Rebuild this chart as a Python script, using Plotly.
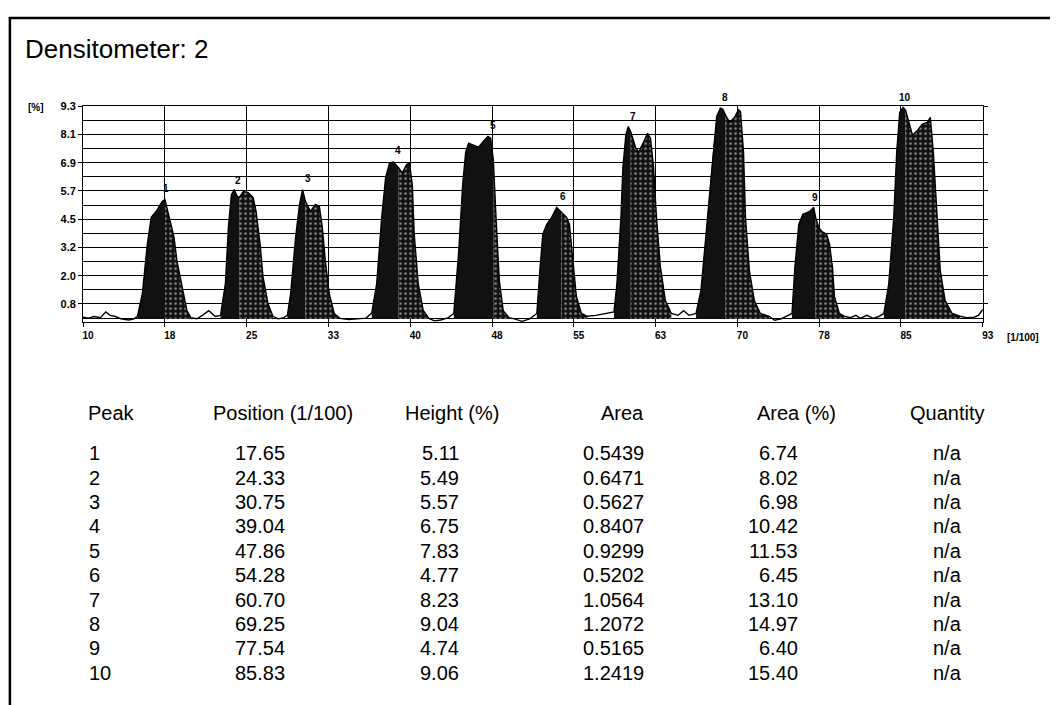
import plotly.graph_objects as go

W, H = 1061, 705
FONT = "Liberation Sans, Arial, Helvetica, sans-serif"

# ---- peak report table ----
PEAK_IDS = [1, 2, 3, 4, 5, 6, 7, 8, 9, 10]
PEAK_POS = [17.65, 24.33, 30.75, 39.04, 47.86, 54.28, 60.70, 69.25, 77.54, 85.83]
PEAK_HEIGHT = [5.11, 5.49, 5.57, 6.75, 7.83, 4.77, 8.23, 9.04, 4.74, 9.06]
PEAK_AREA = [0.5439, 0.6471, 0.5627, 0.8407, 0.9299, 0.5202, 1.0564, 1.2072, 0.5165, 1.2419]
PEAK_AREA_PCT = [6.74, 8.02, 6.98, 10.42, 11.53, 6.45, 13.10, 14.97, 6.40, 15.40]
PEAK_QTY = ["n/a"] * 10
TABLE_HEADERS = ["Peak", "Position (1/100)", "Height (%)", "Area", "Area (%)", "Quantity"]

# ---- axis labels ----
X_TICK_LABELS = ["10", "18", "25", "33", "40", "48", "55", "63", "70", "78", "85", "93"]
Y_TICK_LABELS = ["9.3", "8.1", "6.9", "5.7", "4.5", "3.2", "2.0", "0.8"]
X_MIN, X_MAX = 10, 93
Y_MIN, Y_MAX = 0, 9.33
Y_LABEL_STEP = 1.22

# ---- densitometer scan profile (position 1/100, %) ----
TRACE_X = [
    10.0, 10.5, 11.0, 11.6, 12.1, 12.5, 13.0, 13.5, 14.2, 14.7,
    15.02, 15.47, 15.93, 16.29, 16.75, 17.30, 17.55, 17.94, 18.39, 18.66, 19.12, 19.58, 19.94,
    20.5, 21.0, 21.6, 22.2,
    22.68, 23.13, 23.41, 23.68, 23.95, 24.2, 24.41, 24.78, 25.23, 25.69, 25.96, 26.33, 26.60, 27.06, 27.51,
    28.0, 28.5,
    28.85, 29.15, 29.61, 29.97, 30.25, 30.52, 30.98, 31.43, 31.80, 32.07, 32.35, 32.71, 33.17, 33.71,
    34.5, 35.3, 36.1,
    36.63, 37.09, 37.55, 37.91, 38.28, 38.64, 39.10, 39.46, 39.82, 40.10, 40.37, 40.55, 40.92, 41.38, 41.92,
    42.4, 43.0, 43.7,
    44.20, 44.66, 45.02, 45.30, 45.57, 46.03, 46.48, 47.0, 47.35, 47.6, 47.85, 48.1, 48.4, 48.76, 49.3, 49.8,
    50.5, 51.2,
    51.86, 52.14, 52.41, 52.78, 53.23, 53.69, 54.14, 54.60, 54.87, 55.15, 55.51, 55.97, 56.52,
    57.3, 58.2,
    58.98, 59.25, 59.62, 59.80, 60.07, 60.30, 60.53, 60.99, 61.26, 61.71, 62.08, 62.35, 62.63, 62.90, 63.26, 63.72, 64.27,
    64.9, 65.4, 65.9,
    66.55, 67.00, 67.46, 67.83, 68.19, 68.46, 68.80, 69.01, 69.28, 69.65, 70.10, 70.47, 70.65, 70.93, 71.11, 71.47, 71.93, 72.48, 73.30,
    73.8, 74.4, 75.0,
    75.40, 75.67, 76.03, 76.40, 76.76, 77.04, 77.40, 77.58, 77.86, 78.13, 78.59, 78.86, 79.13, 79.32, 79.77, 80.23,
    80.8, 81.3, 81.7, 82.3, 82.9, 83.4,
    83.88, 84.33, 84.79, 85.06, 85.34, 85.65, 85.88, 86.16, 86.52, 86.98, 87.43, 87.89, 88.16, 88.44, 88.80, 89.08, 89.53, 90.17, 90.90,
    91.5, 92.2, 92.6, 93.0,
]
TRACE_Y = [
    0.22, 0.18, 0.25, 0.20, 0.45, 0.30, 0.25, 0.15, 0.10, 0.15,
    0.26, 1.24, 3.38, 4.53, 4.79, 5.21, 5.30, 4.53, 3.68, 2.65, 1.54, 0.51, 0.20,
    0.15, 0.30, 0.50, 0.25,
    0.30, 1.67, 4.10, 5.50, 5.73, 5.45, 5.38, 5.64, 5.60, 5.38, 4.79, 3.38, 1.97, 0.81, 0.26,
    0.15, 0.20,
    0.30, 1.24, 3.68, 5.09, 5.73, 5.21, 4.79, 5.09, 5.00, 4.10, 2.65, 1.24, 0.38, 0.17,
    0.12, 0.15, 0.18,
    0.40, 1.67, 4.53, 6.24, 6.88, 6.92, 6.67, 6.45, 6.79, 6.90, 5.94, 3.80, 1.67, 0.51, 0.17,
    0.06, 0.10, 0.20,
    0.38, 3.08, 5.94, 7.35, 7.73, 7.65, 7.56, 7.85, 8.02, 7.95, 7.00, 4.50, 1.80, 0.50, 0.20, 0.15,
    0.04, 0.15,
    0.38, 2.22, 3.80, 4.23, 4.53, 4.96, 4.74, 4.53, 4.23, 2.82, 1.11, 0.38, 0.26,
    0.30, 0.38,
    0.45, 1.67, 4.53, 6.67, 8.08, 8.45, 8.21, 7.52, 7.35, 7.78, 8.16, 7.95, 6.67, 4.53, 2.39, 0.94, 0.38,
    0.30, 0.50, 0.30,
    0.38, 1.37, 3.80, 5.94, 7.78, 8.90, 9.24, 9.20, 8.93, 8.63, 8.85, 9.18, 9.10, 7.35, 4.53, 2.22, 0.94, 0.38, 0.26,
    0.09, 0.15, 0.30,
    0.38, 2.39, 4.23, 4.66, 4.74, 4.79, 4.96, 4.53, 4.10, 3.93, 3.80, 3.38, 2.39, 1.11, 0.38, 0.26,
    0.20, 0.30, 0.17, 0.30, 0.17, 0.25,
    0.38, 1.67, 4.53, 7.35, 9.06, 9.28, 9.15, 8.63, 8.08, 8.29, 8.55, 8.63, 8.85, 7.35, 4.53, 2.22, 0.94, 0.38, 0.26,
    0.20, 0.22, 0.30, 0.55,
]
# integration limits of each band
PEAK_START = [15.02, 22.68, 28.85, 36.63, 44.20, 51.86, 58.98, 66.55, 75.40, 83.88]
PEAK_END = [19.94, 27.51, 33.71, 41.92, 49.80, 56.52, 64.27, 73.30, 80.23, 90.90]
BASELINE = 0.15


def px_x(px):
    return px / W


def px_y(py):
    return 1 - py / H


fig = go.Figure()

# shaded bands: dense left flank, speckled right flank
for pos, x0, x1 in zip(PEAK_POS, PEAK_START, PEAK_END):
    pts = [(x, y) for x, y in zip(TRACE_X, TRACE_Y) if x0 <= x <= x1]
    split = min(range(len(pts)), key=lambda i: abs(pts[i][0] - pos))
    left, right = pts[: split + 1], pts[split:]
    for part, solid in ((left, True), (right, False)):
        xs = [p[0] for p in part] + [part[-1][0], part[0][0]]
        ys = [p[1] for p in part] + [BASELINE, BASELINE]
        kw = dict(fillcolor="#111111") if solid else dict(
            fillpattern=dict(shape=".", fgcolor="#ffffff", bgcolor="#111111",
                             size=5, solidity=0.22))
        fig.add_trace(go.Scatter(x=xs, y=ys, mode="none", fill="toself",
                                 hoverinfo="skip", showlegend=False, **kw))

# scan profile line
fig.add_trace(go.Scatter(x=TRACE_X, y=TRACE_Y, mode="lines",
                         line=dict(color="black", width=1.4),
                         hoverinfo="skip", showlegend=False))

x_ticks = [X_MIN + i * (X_MAX - X_MIN) / (len(X_TICK_LABELS) - 1) for i in range(len(X_TICK_LABELS))]
y_ticks = [Y_MAX - i * Y_LABEL_STEP for i in range(len(Y_TICK_LABELS))]
y_grid = [Y_MAX - i * Y_LABEL_STEP / 2 for i in range(2 * len(Y_TICK_LABELS))]

fig.update_xaxes(
    domain=[px_x(83), px_x(993)], range=[X_MIN, X_MAX],
    tickmode="array", tickvals=x_ticks, ticktext=X_TICK_LABELS,
    showgrid=True, gridcolor="black", gridwidth=1,
    showline=True, linecolor="black", linewidth=1, mirror=True,
    ticks="outside", ticklen=4, tickcolor="black", ticklabelshift=5,
    tickfont=dict(family=FONT, size=10, color="black", weight="bold"),
    zeroline=False,
)
fig.update_yaxes(
    domain=[px_y(319), px_y(101)], range=[Y_MIN, Y_MAX],
    tickmode="array", tickvals=y_ticks, ticktext=Y_TICK_LABELS,
    showgrid=False,
    minor=dict(tickmode="array", tickvals=y_grid, showgrid=True,
               gridcolor="black", gridwidth=1, ticks=""),
    showline=True, linecolor="black", linewidth=1, mirror="ticks",
    ticks="outside", ticklen=4, tickcolor="black",
    tickfont=dict(family=FONT, size=11, color="black", weight="bold"),
    zeroline=False,
)

annotations = []
# peak numbers above each band
for pid, pos, h in zip(PEAK_IDS, PEAK_POS, PEAK_HEIGHT):
    annotations.append(dict(x=pos, y=h + BASELINE, xref="x", yref="y", text=str(pid),
                            showarrow=False, yanchor="bottom", yshift=4,
                            font=dict(family=FONT, size=10, color="black", weight="bold")))

annotations += [
    dict(x=px_x(22), y=px_y(43), xref="paper", yref="paper", text="Densitometer: 2",
         showarrow=False, xanchor="left", yanchor="middle",
         font=dict(family=FONT, size=26, color="black")),
    dict(x=px_x(25), y=px_y(102), xref="paper", yref="paper", text="[%]",
         showarrow=False, xanchor="left", yanchor="middle",
         font=dict(family=FONT, size=10, color="black", weight="bold")),
    dict(x=px_x(1015), y=px_y(334), xref="paper", yref="paper", text="[1/100]",
         showarrow=False, xanchor="left", yanchor="middle",
         font=dict(family=FONT, size=10, color="black", weight="bold")),
]

# report table
TFONT = dict(family=FONT, size=20, color="black")
header_y = 410
row_y0, row_dy = 451, 24.6
# (header x, header anchor, value x, value anchor) per column
cols = [(86, "left", 87, "left"),
        (285, "center", 289, "right"),
        (456, "center", 465, "right"),
        (652, "right", 652, "right"),
        (805, "center", 808, "right"),
        (957, "center", 957, "center")]
columns = [
    [str(v) for v in PEAK_IDS],
    [f"{v:.2f}" for v in PEAK_POS],
    [f"{v:.2f}" for v in PEAK_HEIGHT],
    [f"{v:.4f}" for v in PEAK_AREA],
    [f"{v:.2f}" for v in PEAK_AREA_PCT],
    PEAK_QTY,
]
for head, (hx, ha, vx, va), vals in zip(TABLE_HEADERS, cols, columns):
    annotations.append(dict(x=px_x(hx), y=px_y(header_y), xref="paper", yref="paper",
                            text=head, showarrow=False, xanchor=ha, yanchor="middle",
                            font=TFONT))
    for i, v in enumerate(vals):
        annotations.append(dict(x=px_x(vx), y=px_y(row_y0 + i * row_dy), xref="paper",
                                yref="paper", text=v, showarrow=False, xanchor=va,
                                yanchor="middle", font=TFONT))

# report frame
shapes = [
    dict(type="line", xref="paper", yref="paper", x0=px_x(8), x1=1, y0=px_y(12), y1=px_y(12),
         line=dict(color="black", width=2.5)),
    dict(type="line", xref="paper", yref="paper", x0=px_x(9), x1=px_x(9), y0=px_y(11), y1=0,
         line=dict(color="black", width=2.5)),
]

fig.update_layout(
    width=W, height=H, autosize=False,
    margin=dict(l=0, r=0, t=0, b=0),
    paper_bgcolor="white", plot_bgcolor="white",
    showlegend=False,
    annotations=annotations, shapes=shapes,
)

fig.write_html("out.html")
